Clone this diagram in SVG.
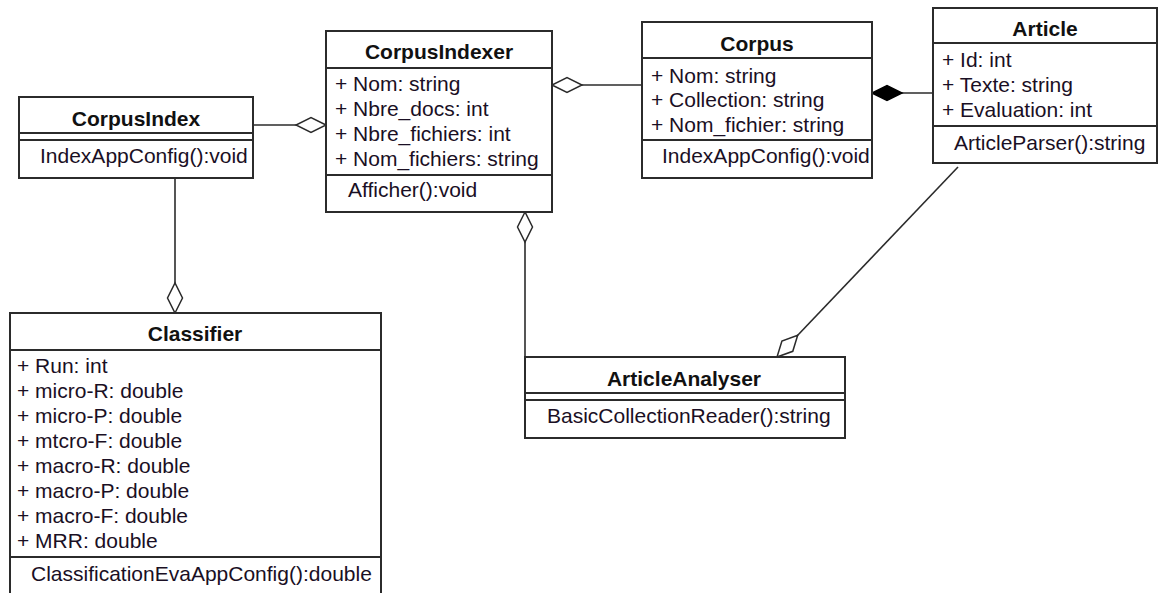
<svg xmlns="http://www.w3.org/2000/svg" width="1159" height="593" viewBox="0 0 1159 593">
  <style>
    .box { fill: #ffffff; stroke: #2b2b2b; stroke-width: 2; }
    .sep { stroke: #2b2b2b; stroke-width: 2; }
    .title { font-family: "Liberation Sans", Arial, sans-serif; font-size: 21px; font-weight: bold; fill: #111; text-anchor: middle; }
    .item { font-family: "Liberation Sans", Arial, sans-serif; font-size: 21px; fill: #1a0f24; }
    .link { fill: none; stroke: #2b2b2b; stroke-width: 1.6; }
  </style>
  <defs>
    <!-- aggregation: hollow diamond -->
    <marker id="agg" viewBox="-32 -9 34 18" markerWidth="34" markerHeight="18" refX="0" refY="0" orient="auto" markerUnits="userSpaceOnUse">
      <path d="M0,0 L-15,-7.5 L-30,0 L-15,7.5 Z" fill="#ffffff" stroke="#2b2b2b" stroke-width="1.5"/>
    </marker>
    <!-- composition: filled diamond -->
    <marker id="comp" viewBox="-32 -9 34 18" markerWidth="34" markerHeight="18" refX="0" refY="0" orient="auto" markerUnits="userSpaceOnUse">
      <path d="M0,0 L-15,-7.5 L-30,0 L-15,7.5 Z" fill="#000000" stroke="#000000" stroke-width="1.5"/>
    </marker>
  </defs>
  <rect width="1159" height="593" fill="#ffffff"/>

  <g id="connectors">
    <path class="link" d="M253,125 L326,125" marker-end="url(#agg)"/>
    <path class="link" d="M642,85 L552,85" marker-end="url(#agg)"/>
    <path class="link" d="M933,93 L872,93" marker-end="url(#comp)"/>
    <path class="link" d="M525,357 L525,212" marker-end="url(#agg)"/>
    <path class="link" d="M175,178 L175,313" marker-end="url(#agg)"/>
    <path class="link" d="M958,167 L777,357" marker-end="url(#agg)"/>
  </g>

  <g id="CorpusIndex">
    <rect class="box" x="19" y="97" width="234" height="81"/>
    <line class="sep" x1="19" y1="133" x2="253" y2="133"/>
    <line class="sep" x1="19" y1="140" x2="253" y2="140"/>
    <text class="title" x="136" y="125.5">CorpusIndex</text>
    <text class="item" x="40" y="163">IndexAppConfig():void</text>
  </g>

  <g id="CorpusIndexer">
    <rect class="box" x="326" y="31" width="226" height="181"/>
    <line class="sep" x1="326" y1="68" x2="552" y2="68"/>
    <line class="sep" x1="326" y1="175" x2="552" y2="175"/>
    <text class="title" x="439" y="59">CorpusIndexer</text>
    <text class="item" x="335" y="91">+ Nom: string</text>
    <text class="item" x="335" y="116">+ Nbre_docs: int</text>
    <text class="item" x="335" y="141">+ Nbre_fichiers: int</text>
    <text class="item" x="335" y="166">+ Nom_fichiers: string</text>
    <text class="item" x="348" y="196.5">Afficher():void</text>
  </g>

  <g id="Corpus">
    <rect class="box" x="642" y="22" width="230" height="156"/>
    <line class="sep" x1="642" y1="58" x2="872" y2="58"/>
    <line class="sep" x1="642" y1="140" x2="872" y2="140"/>
    <text class="title" x="757" y="50.5">Corpus</text>
    <text class="item" x="651" y="82.5">+ Nom: string</text>
    <text class="item" x="651" y="107">+ Collection: string</text>
    <text class="item" x="651" y="132">+ Nom_fichier: string</text>
    <text class="item" x="662" y="162.5">IndexAppConfig():void</text>
  </g>

  <g id="Article">
    <rect class="box" x="933" y="8" width="224" height="155"/>
    <line class="sep" x1="933" y1="43" x2="1157" y2="43"/>
    <line class="sep" x1="933" y1="126" x2="1157" y2="126"/>
    <text class="title" x="1045" y="35.5">Article</text>
    <text class="item" x="942" y="67">+ Id: int</text>
    <text class="item" x="942" y="92">+ Texte: string</text>
    <text class="item" x="942" y="117">+ Evaluation: int</text>
    <text class="item" x="954" y="149.5">ArticleParser():string</text>
  </g>

  <g id="ArticleAnalyser">
    <rect class="box" x="525" y="357" width="320" height="81"/>
    <line class="sep" x1="525" y1="393" x2="845" y2="393"/>
    <line class="sep" x1="525" y1="400" x2="845" y2="400"/>
    <text class="title" x="684" y="385.5">ArticleAnalyser</text>
    <text class="item" x="547" y="422.5">BasicCollectionReader():string</text>
  </g>

  <g id="Classifier">
    <rect class="box" x="10" y="313" width="371" height="290"/>
    <line class="sep" x1="10" y1="350" x2="381" y2="350"/>
    <line class="sep" x1="10" y1="557" x2="381" y2="557"/>
    <text class="title" x="195" y="340.5">Classifier</text>
    <text class="item" x="17" y="372.5">+ Run: int</text>
    <text class="item" x="17" y="397.5">+ micro-R: double</text>
    <text class="item" x="17" y="422.5">+ micro-P: double</text>
    <text class="item" x="17" y="447.5">+ mtcro-F: double</text>
    <text class="item" x="17" y="472.5">+ macro-R: double</text>
    <text class="item" x="17" y="497.5">+ macro-P: double</text>
    <text class="item" x="17" y="522.5">+ macro-F: double</text>
    <text class="item" x="17" y="547.5">+ MRR: double</text>
    <text class="item" x="31" y="580.5">ClassificationEvaAppConfig():double</text>
  </g>
</svg>
